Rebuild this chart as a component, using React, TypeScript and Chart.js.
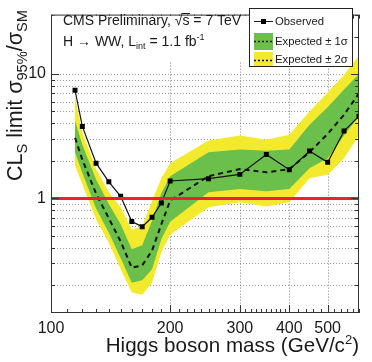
import React, { useEffect, useRef } from "react";
import { Chart, registerables } from "chart.js";

Chart.register(...registerables);

// ---- data ----
const masses = [115, 120, 130, 140, 150, 160, 170, 180, 190, 200, 250, 300, 350, 400, 450, 500, 550, 600];
const observed = [7.4, 3.79, 1.92, 1.36, 1.04, 0.653, 0.593, 0.705, 0.919, 1.38, 1.44, 1.56, 2.25, 1.7, 2.4, 1.95, 3.48, 4.58];
const expected = [3.07, 2.05, 1.09, 0.69, 0.45, 0.277, 0.29, 0.38, 0.62, 0.96, 1.51, 1.72, 1.62, 1.72, 2.35, 3.3, 4.7, 7.0];
const oneSigmaLow = [2.35, 1.6, 0.83, 0.53, 0.33, 0.21, 0.22, 0.27, 0.47, 0.65, 1.12, 1.19, 1.14, 1.19, 1.75, 2.1, 3.2, 4.6];
const oneSigmaHigh = [4.2, 2.7, 1.42, 0.9, 0.62, 0.39, 0.42, 0.66, 1.1, 1.51, 2.35, 2.47, 2.41, 2.47, 3.9, 5.4, 7.5, 10];
const twoSigmaLow = [1.85, 1.3, 0.68, 0.44, 0.27, 0.175, 0.168, 0.21, 0.37, 0.51, 0.85, 0.93, 0.86, 0.93, 1.45, 1.55, 2.1, 3.2];
const twoSigmaHigh = [6.5, 3.4, 1.72, 1.12, 0.85, 0.56, 0.6, 0.95, 1.45, 1.92, 2.92, 3.2, 2.96, 3.25, 5.0, 7.1, 9.8, 14];

const xRange = [100, 600];
const yRange = [0.12, 30];
const referenceLimit = 1;

const xTickValues = [100, 110, 120, 130, 140, 150, 160, 170, 180, 190, 200, 210, 220, 230, 240, 250, 260, 270, 280, 290, 300, 310, 320, 330, 340, 350, 360, 370, 380, 390, 400, 420, 440, 460, 480, 500, 520, 540, 560, 580, 600];
const xLabelValues = [100, 200, 300, 400, 500];
const yTickValues = [0.2, 0.3, 0.4, 0.5, 0.6, 0.7, 0.8, 0.9, 1, 2, 3, 4, 5, 6, 7, 8, 9, 10, 20, 30];
const yLabelValues = [1, 10];

const FONT = '"Liberation Sans", Arial, Helvetica, sans-serif';
const YELLOW = "#f3ea2d";
const GREEN = "#6bbf4b";
const RED = "#ee1f35";
const INK = "#1a1a1a";

type Run = { text: string; size: number; dy?: number };

function runsWidth(ctx: CanvasRenderingContext2D, runs: Run[]) {
  let w = 0;
  for (const r of runs) {
    ctx.font = `${r.size}px ${FONT}`;
    w += ctx.measureText(r.text).width;
  }
  return w;
}

function drawRuns(ctx: CanvasRenderingContext2D, x: number, y: number, runs: Run[]) {
  let cx = x;
  for (const r of runs) {
    ctx.font = `${r.size}px ${FONT}`;
    ctx.fillText(r.text, cx, y + (r.dy || 0));
    cx += ctx.measureText(r.text).width;
  }
  return cx;
}

const pts = (arr: number[]) => masses.map((m, i) => ({ x: m, y: arr[i] }));

const decorations = {
  id: "decorations",
  beforeDatasetsDraw(chart: any) {
    const ctx: CanvasRenderingContext2D = chart.ctx;
    const { left, right, top, bottom } = chart.chartArea;
    const xs = chart.scales.x;
    const ys = chart.scales.y;
    ctx.save();
    ctx.lineWidth = 1;
    ctx.setLineDash([1, 2]);
    ctx.strokeStyle = "#9a9a9a";
    ctx.beginPath();
    for (const v of yTickValues) {
      if (v >= yRange[1]) continue;
      const py = Math.round(ys.getPixelForValue(v)) + 0.5;
      ctx.moveTo(left, py);
      ctx.lineTo(right, py);
    }
    ctx.stroke();
    ctx.strokeStyle = "#808080";
    ctx.beginPath();
    for (const v of xLabelValues) {
      if (v <= xRange[0]) continue;
      const px = Math.round(xs.getPixelForValue(v)) + 0.5;
      ctx.moveTo(px, top);
      ctx.lineTo(px, bottom);
    }
    ctx.stroke();
    ctx.restore();
  },
  afterDatasetsDraw(chart: any) {
    const ctx: CanvasRenderingContext2D = chart.ctx;
    const { left, right, top, bottom } = chart.chartArea;
    const xs = chart.scales.x;
    const ys = chart.scales.y;
    ctx.save();
    ctx.strokeStyle = "#333";
    ctx.lineWidth = 1;
    // inward ticks
    ctx.beginPath();
    for (const v of xTickValues) {
      const px = Math.round(xs.getPixelForValue(v)) + 0.5;
      const len = xLabelValues.includes(v) ? 8 : 4;
      ctx.moveTo(px, bottom);
      ctx.lineTo(px, bottom - len);
      ctx.moveTo(px, top);
      ctx.lineTo(px, top + len);
    }
    for (const v of yTickValues) {
      const py = Math.round(ys.getPixelForValue(v)) + 0.5;
      const len = yLabelValues.includes(v) ? 8 : 4;
      ctx.moveTo(left, py);
      ctx.lineTo(left + len, py);
      ctx.moveTo(right, py);
      ctx.lineTo(right - len, py);
    }
    ctx.stroke();
    // white pad behind the CMS label (covers grid and top ticks there)
    ctx.fillStyle = "#ffffff";
    ctx.fillRect(left + 1, top + 1, 195, 46);
    // frame
    ctx.strokeRect(left + 0.5, top + 0.5, right - left - 1, bottom - top - 1);
    ctx.restore();
  },
  afterDraw(chart: any) {
    const ctx: CanvasRenderingContext2D = chart.ctx;
    const { left, right } = chart.chartArea;
    ctx.save();
    ctx.fillStyle = INK;
    ctx.textBaseline = "alphabetic";
    ctx.textAlign = "left";

    // y axis title (rotated)
    const yRuns: Run[] = [
      { text: "CL", size: 22 },
      { text: "S", size: 15, dy: 5 },
      { text: " limit σ", size: 22 },
      { text: "95%", size: 15, dy: 5 },
      { text: "/σ", size: 22 },
      { text: "SM", size: 15, dy: 5 },
    ];
    const targetLen = 171;
    const k = targetLen / runsWidth(ctx, yRuns);
    const scaled = yRuns.map((r) => ({ text: r.text, size: r.size * k, dy: (r.dy || 0) * k }));
    ctx.save();
    ctx.translate(22, 181);
    ctx.rotate(-Math.PI / 2);
    drawRuns(ctx, 0, 0, scaled);
    ctx.restore();

    // x axis title, right aligned
    const xRuns: Run[] = [
      { text: "Higgs boson mass (GeV/c", size: 20.6 },
      { text: "2", size: 13, dy: -8 },
      { text: ")", size: 20.6 },
    ];
    const xw = runsWidth(ctx, xRuns);
    drawRuns(ctx, right - xw, 352, xRuns);

    // CMS labels
    const x0 = left + 12;
    const afterRad = drawRuns(ctx, x0, 25, [{ text: "CMS Preliminary, √", size: 14 }]);
    ctx.font = `14px ${FONT}`;
    const sw = ctx.measureText("s").width;
    ctx.fillText("s", afterRad, 25);
    ctx.beginPath();
    ctx.strokeStyle = INK;
    ctx.lineWidth = 1;
    ctx.moveTo(afterRad - 1, 13.5);
    ctx.lineTo(afterRad + sw + 0.5, 13.5);
    ctx.stroke();
    drawRuns(ctx, afterRad + sw, 25, [{ text: " = 7 TeV", size: 14 }]);

    drawRuns(ctx, x0, 46, [
      { text: "H → WW, L", size: 14 },
      { text: "int", size: 9, dy: 3 },
      { text: " = 1.1 fb", size: 14 },
      { text: "-1", size: 9, dy: -6 },
    ]);

    // legend
    const lx = 249.5, ly = 8.5, lw = 103, lh = 58;
    ctx.fillStyle = "#ffffff";
    ctx.fillRect(lx, ly, lw, lh);
    ctx.strokeStyle = "#222";
    ctx.lineWidth = 1;
    ctx.strokeRect(lx, ly, lw, lh);
    const sx0 = 254, sx1 = 273, tx = 275;
    ctx.beginPath();
    ctx.moveTo(sx0, 21.5);
    ctx.lineTo(sx1, 21.5);
    ctx.stroke();
    ctx.fillStyle = "#000";
    ctx.fillRect(261, 19, 5, 5);
    ctx.fillStyle = GREEN;
    ctx.fillRect(sx0, 33, sx1 - sx0, 17);
    ctx.fillStyle = YELLOW;
    ctx.fillRect(sx0, 52, sx1 - sx0, 14);
    ctx.save();
    ctx.setLineDash([2, 2]);
    ctx.lineWidth = 1.5;
    ctx.strokeStyle = "#111";
    ctx.beginPath();
    ctx.moveTo(sx0, 41.5);
    ctx.lineTo(sx1, 41.5);
    ctx.moveTo(sx0, 60.5);
    ctx.lineTo(sx1, 60.5);
    ctx.stroke();
    ctx.restore();
    ctx.fillStyle = INK;
    ctx.textBaseline = "middle";
    ctx.font = `11.3px ${FONT}`;
    ctx.fillText("Observed", tx, 21.5);
    ctx.fillText("Expected ± 1σ", tx, 41.5);
    ctx.fillText("Expected ± 2σ", tx, 60);
    ctx.restore();
  },
};

export default function App() {
  const canvasRef = useRef<HTMLCanvasElement | null>(null);

  useEffect(() => {
    const canvas = canvasRef.current;
    if (!canvas) return;
    const chart = new Chart(canvas, {
      type: "line",
      data: {
        datasets: [
          { label: "2σ high", data: pts(twoSigmaHigh), fill: "+1", backgroundColor: YELLOW, borderWidth: 0, pointRadius: 0, order: 6 },
          { label: "2σ low", data: pts(twoSigmaLow), fill: false, borderWidth: 0, pointRadius: 0, order: 6 },
          { label: "1σ high", data: pts(oneSigmaHigh), fill: "+1", backgroundColor: GREEN, borderWidth: 0, pointRadius: 0, order: 5 },
          { label: "1σ low", data: pts(oneSigmaLow), fill: false, borderWidth: 0, pointRadius: 0, order: 5 },
          { label: "Expected", data: pts(expected), borderColor: "#111", borderWidth: 2, borderDash: [5, 4], pointRadius: 0, fill: false, order: 3 },
          {
            label: "Observed",
            data: pts(observed),
            borderColor: "#111",
            borderWidth: 1.2,
            pointStyle: "rect",
            pointRadius: 3.5,
            pointBackgroundColor: "#000",
            pointBorderColor: "#000",
            pointBorderWidth: 0,
            fill: false,
            order: 2,
          },
          {
            label: "limit = 1",
            data: [
              { x: xRange[0], y: referenceLimit },
              { x: xRange[1], y: referenceLimit },
            ],
            borderColor: RED,
            borderWidth: 3,
            pointRadius: 0,
            fill: false,
            order: 1,
          },
        ],
      },
      options: {
        responsive: false,
        animation: false,
        devicePixelRatio: 1,
        layout: { padding: { left: 0, right: 13, top: 8, bottom: 0 } },
        plugins: { legend: { display: false }, tooltip: { enabled: false } },
        elements: { line: { tension: 0 } },
        scales: {
          x: {
            type: "logarithmic",
            min: xRange[0],
            max: xRange[1],
            afterBuildTicks: (scale: any) => {
              scale.ticks = xTickValues.map((v) => ({ value: v }));
            },
            afterFit: (scale: any) => {
              scale.height = 49;
            },
            border: { display: false },
            grid: { display: false, drawTicks: false },
            ticks: {
              autoSkip: false,
              maxRotation: 0,
              padding: 6,
              color: INK,
              font: { family: FONT, size: 16 },
              callback: (v: any) => (xLabelValues.includes(Number(v)) ? String(v) : ""),
            },
          },
          y: {
            type: "logarithmic",
            min: yRange[0],
            max: yRange[1],
            afterBuildTicks: (scale: any) => {
              scale.ticks = yTickValues.map((v) => ({ value: v }));
            },
            afterFit: (scale: any) => {
              scale.width = 51;
            },
            border: { display: false },
            grid: { display: false, drawTicks: false },
            ticks: {
              autoSkip: false,
              padding: 5,
              color: INK,
              font: { family: FONT, size: 16 },
              callback: (v: any) => (yLabelValues.includes(Number(v)) ? String(v) : ""),
            },
          },
        },
      },
      plugins: [decorations],
    } as any);
    return () => chart.destroy();
  }, []);

  return (
    <div style={{ position: "absolute", left: 0, top: 0, width: 372, height: 362, background: "#fff" }}>
      <canvas ref={canvasRef} width={372} height={362} style={{ display: "block", width: 372, height: 362 }} />
    </div>
  );
}
